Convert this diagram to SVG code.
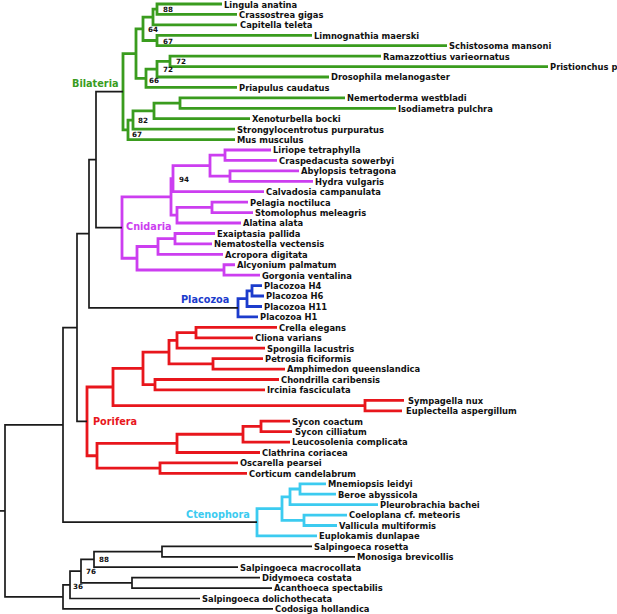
<svg xmlns="http://www.w3.org/2000/svg" width="617" height="614" viewBox="0 0 617 614">
<style>
.br{fill:none;stroke-linejoin:miter;stroke-linecap:butt}
.k{stroke:#1a1a1a;stroke-width:1.7}
.g{stroke:#3a9c1e;stroke-width:2.8}
.m{stroke:#cc3ef0;stroke-width:2.8}
.b{stroke:#1c3ccc;stroke-width:2.8}
.r{stroke:#e8161c;stroke-width:2.8}
.c{stroke:#3ccbf0;stroke-width:2.8}
.leaf{font-family:"DejaVu Sans Condensed","DejaVu Sans",sans-serif;font-weight:bold;font-size:9.3px;fill:#111}
.bs{font-family:"DejaVu Sans",sans-serif;font-weight:bold;font-size:7.2px;fill:#111}
.clade{font-family:"DejaVu Sans Condensed","DejaVu Sans",sans-serif;font-weight:bold;font-size:10.8px}
</style>
<g id="connectors">
<g id="bilateria-branches" class="br g">
<path d="M222 4 H157 V14.4 H237"/>
<path d="M157 9.2 H153 V24.9 H237"/>
<path d="M312 35.3 H157 V45.7 H447"/>
<path d="M153 17.05 H143 V40.5 H157"/>
<path d="M381 56.2 H170 V66.6 H548"/>
<path d="M170 61.4 H157 V77 H329"/>
<path d="M157 69.2 H146 V87.4 H237"/>
<path d="M143 28.8 H136 V78.3 H146"/>
<path d="M345 97.9 H180 V108.3 H396"/>
<path d="M180 103.1 H154 V118.7 H250"/>
<path d="M154 110.9 H133 V129.2 H235"/>
<path d="M133 120.05 H128 V139.6 H235"/>
<path d="M136 53.55 H123 V129.8 H128"/>
</g>
<g id="cnidaria-branches" class="br m">
<path d="M271 150 H225 V160.45 H277"/>
<path d="M299 170.9 H230 V181.3 H313"/>
<path d="M225 155.2 H210 V176.1 H230"/>
<path d="M210 165.65 H173 V191.7 H264"/>
<path d="M248 202.2 H212 V212.6 H253"/>
<path d="M212 207.4 H177 V223 H241"/>
<path d="M173 178.7 H171 V215.2 H177"/>
<path d="M215 233.5 H175 V243.9 H212"/>
<path d="M175 238.7 H158 V254.3 H223"/>
<path d="M235 264.75 H224 V275.2 H260"/>
<path d="M158 246.5 H137 V270 H224"/>
<path d="M171 196.95 H122 V258.25 H137"/>
</g>
<g id="placozoa-branches" class="br b">
<path d="M262 285.6 H252 V296 H264"/>
<path d="M252 290.8 H247 V306.5 H262"/>
<path d="M247 298.65 H238 V316.9 H258"/>
</g>
<g id="porifera-branches" class="br r">
<path d="M277 327.3 H196 V337.8 H253"/>
<path d="M196 332.55 H177 V348.2 H265"/>
<path d="M263 358.6 H213 V369.05 H285"/>
<path d="M177 340.4 H169 V363.8 H213"/>
<path d="M279 379.5 H155 V389.9 H265"/>
<path d="M169 352.1 H143 V384.7 H155"/>
<path d="M404 400.3 H365 V410.8 H402"/>
<path d="M143 368.4 H113 V405.55 H365"/>
<path d="M290 421.2 H261 V431.6 H292"/>
<path d="M261 426.4 H243 V442.1 H290"/>
<path d="M243 434.25 H177 V452.5 H260"/>
<path d="M238 462.9 H160 V473.35 H247"/>
<path d="M177 443.4 H97 V468.1 H160"/>
<path d="M113 387 H87 V455.75 H97"/>
</g>
<g id="ctenophora-branches" class="br c">
<path d="M326 483.8 H300 V494.2 H336"/>
<path d="M300 489 H290 V504.6 H378"/>
<path d="M347 515.1 H304 V525.5 H337"/>
<path d="M290 496.8 H282 V520.3 H304"/>
<path d="M282 508.55 H257 V535.9 H317"/>
</g>
<g id="choanoflagellate-branches" class="br k">
<path d="M312 546.4 H162 V556.8 H355"/>
<path d="M162 551.6 H94 V567.2 H238"/>
<path d="M260 577.65 H132 V588.1 H272"/>
<path d="M94 559.4 H81 V582.9 H132"/>
<path d="M81 571.15 H70 V598.5 H200"/>
<path d="M70 584.8 H63 V608.9 H273"/>
</g>
<g id="backbone-branches" class="br k">
<path d="M123 91.7 H96 V227.6 H122"/>
<path d="M96 159.65 H89 V307.8 H238"/>
<path d="M89 233.7 H77 V421.4 H87"/>
<path d="M77 327.55 H63 V522.2 H257"/>
<path d="M63 424.9 H5 V596.9 H63"/>
<path d="M0 510.9 H5"/>
</g>
</g>
<g id="clade-labels">
<g id="clade-bilateria"><text class="clade" x="72" y="87.3" fill="#3a9c1e">Bilateria</text></g>
<g id="clade-cnidaria"><text class="clade" x="126" y="230.2" fill="#cc3ef0">Cnidaria</text></g>
<g id="clade-placozoa"><text class="clade" x="181" y="303.2" fill="#1c3ccc">Placozoa</text></g>
<g id="clade-porifera"><text class="clade" x="93" y="425.2" fill="#e8161c">Porifera</text></g>
<g id="clade-ctenophora"><text class="clade" x="186" y="518.2" fill="#3ccbf0">Ctenophora</text></g>
</g>
<g id="support-values">
<g id="bs-1"><text class="bs" x="163" y="11.8">88</text></g>
<g id="bs-2"><text class="bs" x="148" y="31.6">64</text></g>
<g id="bs-3"><text class="bs" x="163" y="43.6">67</text></g>
<g id="bs-4"><text class="bs" x="176" y="63.6">72</text></g>
<g id="bs-5"><text class="bs" x="163" y="71.6">72</text></g>
<g id="bs-6"><text class="bs" x="149" y="83.4">66</text></g>
<g id="bs-7"><text class="bs" x="138" y="122.6">82</text></g>
<g id="bs-8"><text class="bs" x="132" y="136.6">67</text></g>
<g id="bs-9"><text class="bs" x="179" y="181.6">94</text></g>
<g id="bs-10"><text class="bs" x="99" y="561.6">88</text></g>
<g id="bs-11"><text class="bs" x="86" y="574.3">76</text></g>
<g id="bs-12"><text class="bs" x="73" y="589.3">36</text></g>
</g>
<g id="leaves">
<g id="leaf-0"><text class="leaf" x="224" y="7.8">Lingula anatina</text></g>
<g id="leaf-1"><text class="leaf" x="239" y="17.7">Crassostrea gigas</text></g>
<g id="leaf-2"><text class="leaf" x="240" y="28.2">Capitella teleta</text></g>
<g id="leaf-3"><text class="leaf" x="314" y="38.6">Limnognathia maerski</text></g>
<g id="leaf-4"><text class="leaf" x="449" y="49">Schistosoma mansoni</text></g>
<g id="leaf-5"><text class="leaf" x="383" y="59.5">Ramazzottius varieornatus</text></g>
<g id="leaf-6"><text class="leaf" x="550" y="69.9">Pristionchus p</text></g>
<g id="leaf-7"><text class="leaf" x="331" y="80.3">Drosophila melanogaster</text></g>
<g id="leaf-8"><text class="leaf" x="239" y="90.7">Priapulus caudatus</text></g>
<g id="leaf-9"><text class="leaf" x="347" y="101.2">Nemertoderma westbladi</text></g>
<g id="leaf-10"><text class="leaf" x="398" y="111.6">Isodiametra pulchra</text></g>
<g id="leaf-11"><text class="leaf" x="252" y="122">Xenoturbella bocki</text></g>
<g id="leaf-12"><text class="leaf" x="237" y="132.5">Strongylocentrotus purpuratus</text></g>
<g id="leaf-13"><text class="leaf" x="237" y="142.9">Mus musculus</text></g>
<g id="leaf-14"><text class="leaf" x="273" y="153.3">Liriope tetraphylla</text></g>
<g id="leaf-15"><text class="leaf" x="279" y="163.75">Craspedacusta sowerbyi</text></g>
<g id="leaf-16"><text class="leaf" x="301" y="174.2">Abylopsis tetragona</text></g>
<g id="leaf-17"><text class="leaf" x="315" y="184.6">Hydra vulgaris</text></g>
<g id="leaf-18"><text class="leaf" x="266" y="195">Calvadosia campanulata</text></g>
<g id="leaf-19"><text class="leaf" x="250" y="205.5">Pelagia noctiluca</text></g>
<g id="leaf-20"><text class="leaf" x="255" y="215.9">Stomolophus meleagris</text></g>
<g id="leaf-21"><text class="leaf" x="243" y="226.3">Alatina alata</text></g>
<g id="leaf-22"><text class="leaf" x="217" y="236.8">Exaiptasia pallida</text></g>
<g id="leaf-23"><text class="leaf" x="214" y="247.2">Nematostella vectensis</text></g>
<g id="leaf-24"><text class="leaf" x="225" y="257.6">Acropora digitata</text></g>
<g id="leaf-25"><text class="leaf" x="237" y="268">Alcyonium palmatum</text></g>
<g id="leaf-26"><text class="leaf" x="262" y="278.5">Gorgonia ventalina</text></g>
<g id="leaf-27"><text class="leaf" x="264" y="288.9">Placozoa H4</text></g>
<g id="leaf-28"><text class="leaf" x="266" y="299.3">Placozoa H6</text></g>
<g id="leaf-29"><text class="leaf" x="264" y="309.8">Placozoa H11</text></g>
<g id="leaf-30"><text class="leaf" x="260" y="320.2">Placozoa H1</text></g>
<g id="leaf-31"><text class="leaf" x="279" y="330.6">Crella elegans</text></g>
<g id="leaf-32"><text class="leaf" x="255" y="341.1">Cliona varians</text></g>
<g id="leaf-33"><text class="leaf" x="267" y="351.5">Spongilla lacustris</text></g>
<g id="leaf-34"><text class="leaf" x="265" y="361.9">Petrosia ficiformis</text></g>
<g id="leaf-35"><text class="leaf" x="287" y="372.35">Amphimedon queenslandica</text></g>
<g id="leaf-36"><text class="leaf" x="281" y="382.8">Chondrilla caribensis</text></g>
<g id="leaf-37"><text class="leaf" x="267" y="393.2">Ircinia fasciculata</text></g>
<g id="leaf-38"><text class="leaf" x="408" y="403.6">Sympagella nux</text></g>
<g id="leaf-39"><text class="leaf" x="406" y="414.1">Euplectella aspergillum</text></g>
<g id="leaf-40"><text class="leaf" x="292" y="424.5">Sycon coactum</text></g>
<g id="leaf-41"><text class="leaf" x="295" y="434.9">Sycon cilliatum</text></g>
<g id="leaf-42"><text class="leaf" x="292" y="445.4">Leucosolenia complicata</text></g>
<g id="leaf-43"><text class="leaf" x="262" y="455.8">Clathrina coriacea</text></g>
<g id="leaf-44"><text class="leaf" x="240" y="466.2">Oscarella pearsei</text></g>
<g id="leaf-45"><text class="leaf" x="249" y="476.65">Corticum candelabrum</text></g>
<g id="leaf-46"><text class="leaf" x="328" y="487.1">Mnemiopsis leidyi</text></g>
<g id="leaf-47"><text class="leaf" x="338" y="497.5">Beroe abyssicola</text></g>
<g id="leaf-48"><text class="leaf" x="380" y="507.9">Pleurobrachia bachei</text></g>
<g id="leaf-49"><text class="leaf" x="349" y="518.4">Coeloplana cf. meteoris</text></g>
<g id="leaf-50"><text class="leaf" x="339" y="528.8">Vallicula multiformis</text></g>
<g id="leaf-51"><text class="leaf" x="319" y="539.2">Euplokamis dunlapae</text></g>
<g id="leaf-52"><text class="leaf" x="314" y="549.7">Salpingoeca rosetta</text></g>
<g id="leaf-53"><text class="leaf" x="357" y="560.1">Monosiga brevicollis</text></g>
<g id="leaf-54"><text class="leaf" x="240" y="570.5">Salpingoeca macrocollata</text></g>
<g id="leaf-55"><text class="leaf" x="262" y="580.95">Didymoeca costata</text></g>
<g id="leaf-56"><text class="leaf" x="274" y="591.4">Acanthoeca spectabilis</text></g>
<g id="leaf-57"><text class="leaf" x="202" y="601.8">Salpingoeca dolichothecata</text></g>
<g id="leaf-58"><text class="leaf" x="275" y="612.2">Codosiga hollandica</text></g>
</g>
</svg>
